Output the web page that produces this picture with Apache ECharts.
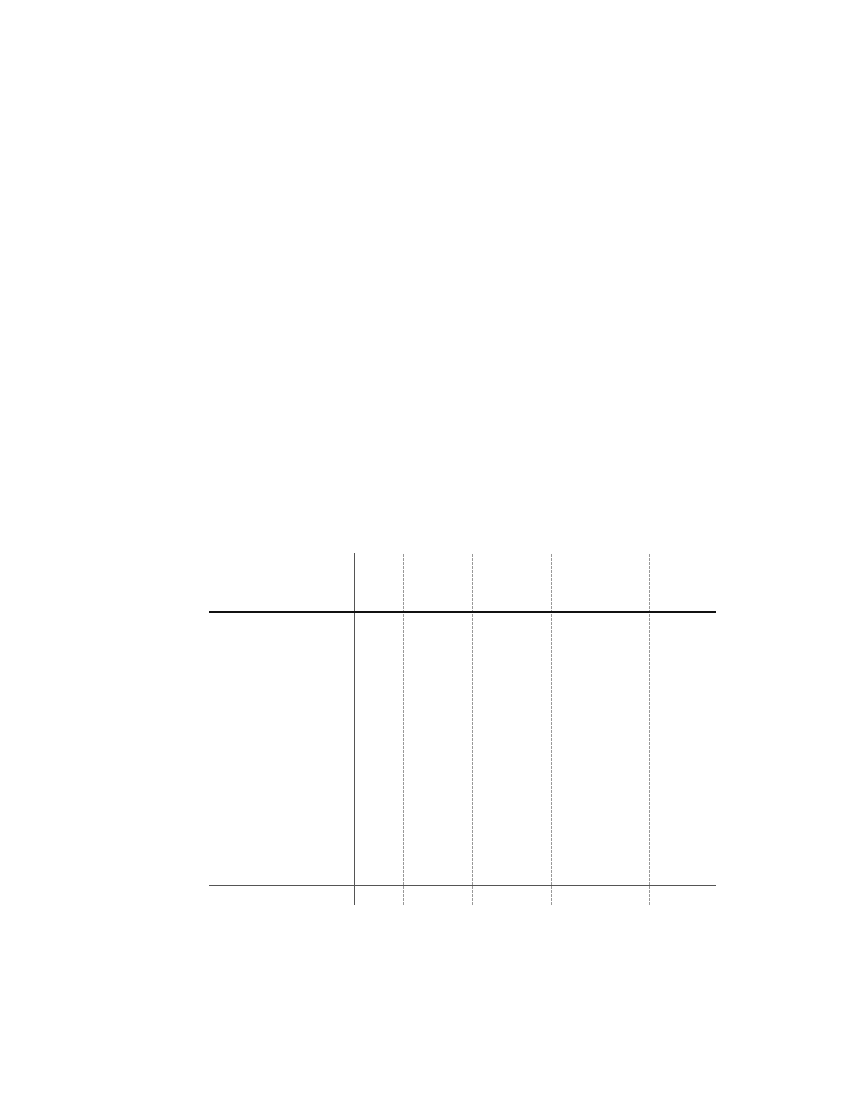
<!DOCTYPE html>
<html>
	<head>
		<meta charset="UTF-8">
		<title></title>
		<style>
			html,body{margin:0;padding:0;background:#fff;}
			#box{width:850px;height:1100px;}
		</style>
	</head>
	<body>
		<div id="box"></div>
		<script type="text/javascript" src="https://cdn.jsdelivr.net/npm/echarts@6/dist/echarts.min.js"></script>
		<script type="text/javascript">
			// x 轴范围和参考线
			var xRange=[-2.95,7.36];
			var refLine=[0];
			var dashLines=[1,2.4,4,6];
			// y 轴范围和横线
			var yRange=[0,17.6];
			var headerLine=[14.65];
			var baseLine=[1];

			var box=document.getElementById('box');
			var myechart=echarts.init(box);

			var marks=[];
			refLine.forEach(function(v){
				marks.push({xAxis:v,lineStyle:{color:'#555',width:1,type:'solid'}});
			});
			dashLines.forEach(function(v){
				marks.push({xAxis:v,lineStyle:{color:'#999',width:1,type:[3,1]}});
			});
			headerLine.forEach(function(v){
				marks.push({yAxis:v,lineStyle:{color:'#111',width:2,type:'solid'}});
			});
			baseLine.forEach(function(v){
				marks.push({yAxis:v,lineStyle:{color:'#555',width:1,type:'solid'}});
			});

			var option={
				animation:false,
				grid:{left:209,right:134,top:553,bottom:195},
				xAxis:{
					type:'value',min:xRange[0],max:xRange[1],
					show:false
				},
				yAxis:{
					type:'value',min:yRange[0],max:yRange[1],
					show:false
				},
				series:[{
					type:'line',
					data:[],
					markLine:{
						silent:true,
						symbol:'none',
						label:{show:false},
						data:marks
					}
				}]
			};
			myechart.setOption(option);
		</script>
	</body>
</html>
